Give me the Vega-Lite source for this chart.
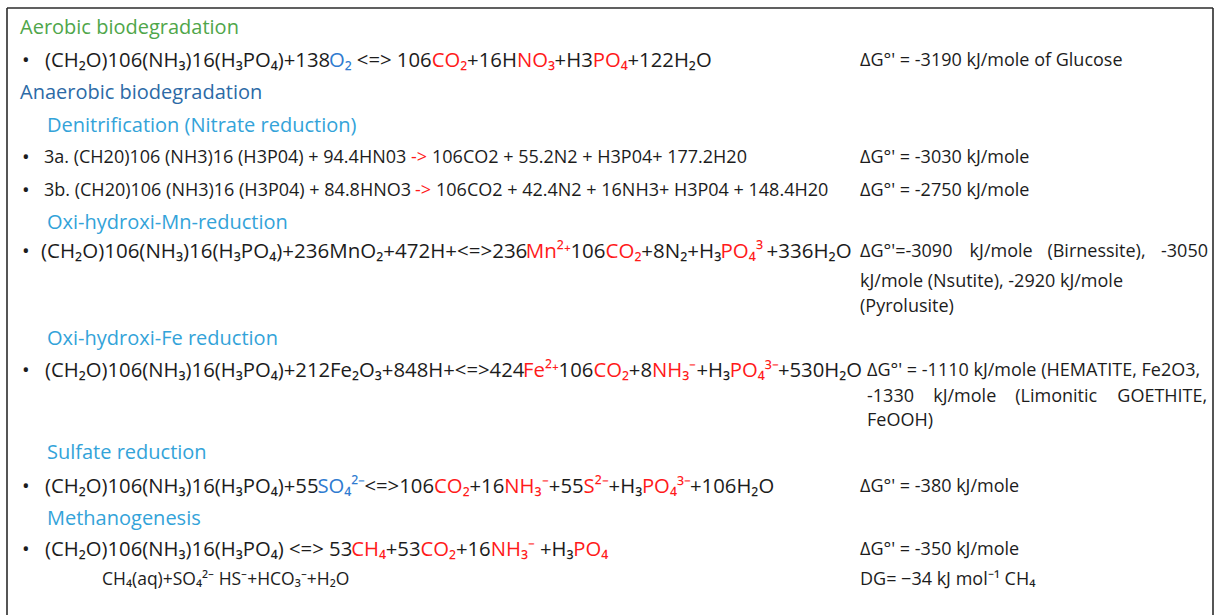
{
  "$schema": "https://vega.github.io/schema/vega-lite/v6.json",
  "width": 1224,
  "height": 615,
  "autosize": "none",
  "padding": 0,
  "background": "white",
  "config": {"view": {"stroke": null}},
  "datasets": {
    "frame": [
      {"x1": 7, "x2": 7, "y1": 8, "y2": 615},
      {"x1": 7, "x2": 1213, "y1": 8, "y2": 8},
      {"x1": 1213, "x2": 1213, "y1": 8, "y2": 615}
    ],
    "t": [
      {"row": 28, "col": 20, "text": "Aerobic biodegradation", "kind": "green", "block": "head"},
      {"row": 93, "col": 20, "text": "Anaerobic biodegradation", "kind": "navy", "block": "head"},
      {"row": 126, "col": 47, "text": "Denitrification (Nitrate reduction)", "kind": "sky", "block": "head"},
      {"row": 223, "col": 47, "text": "Oxi-hydroxi-Mn-reduction", "kind": "sky", "block": "head"},
      {"row": 339, "col": 47, "text": "Oxi-hydroxi-Fe reduction", "kind": "sky", "block": "head"},
      {"row": 453, "col": 47, "text": "Sulfate reduction", "kind": "sky", "block": "head"},
      {"row": 519, "col": 47, "text": "Methanogenesis", "kind": "sky", "block": "head"},

      {"row": 61, "col": 22, "text": "•", "kind": "text", "block": "eq"},
      {"row": 61, "col": 45, "text": "(CH₂O)106(NH₃)16(H₃PO₄)+138", "kind": "text", "block": "eq"},
      {"row": 61, "col": 329, "text": "O₂", "kind": "blue", "block": "eq"},
      {"row": 61, "col": 356.8, "text": "<=> 106", "kind": "text", "block": "eq"},
      {"row": 61, "col": 431.7, "text": "CO₂", "kind": "red", "block": "eq"},
      {"row": 61, "col": 467.1, "text": "+16H", "kind": "text", "block": "eq"},
      {"row": 61, "col": 516.9, "text": "NO₃", "kind": "red", "block": "eq"},
      {"row": 61, "col": 554.6, "text": "+H3", "kind": "text", "block": "eq"},
      {"row": 61, "col": 592.8, "text": "PO₄", "kind": "red", "block": "eq"},
      {"row": 61, "col": 627.5, "text": "+122H₂O", "kind": "text", "block": "eq"},

      {"row": 158, "col": 22, "text": "•", "kind": "text", "block": "eq"},
      {"row": 158, "col": 44, "text": "3a. (CH20)106 (NH3)16 (H3P04) + 94.4HN03", "kind": "text", "block": "denit"},
      {"row": 158, "col": 411, "text": "->", "kind": "red", "block": "denit"},
      {"row": 158, "col": 432, "text": "106CO2 + 55.2N2 + H3P04+ 177.2H20", "kind": "text", "block": "denit"},
      {"row": 191, "col": 22, "text": "•", "kind": "text", "block": "eq"},
      {"row": 191, "col": 44, "text": "3b. (CH20)106 (NH3)16 (H3P04) + 84.8HNO3", "kind": "text", "block": "denit"},
      {"row": 191, "col": 415, "text": "->", "kind": "red", "block": "denit"},
      {"row": 191, "col": 436, "text": "106CO2 + 42.4N2 + 16NH3+ H3P04 + 148.4H20", "kind": "text", "block": "denit"},

      {"row": 252, "col": 22, "text": "•", "kind": "text", "block": "eq"},
      {"row": 252, "col": 41, "text": "(CH₂O)106(NH₃)16(H₃PO₄)+236MnO₂+472H+<=>236", "kind": "text", "block": "mn"},
      {"row": 252, "col": 525.8, "text": "Mn²⁺", "kind": "red", "block": "mn"},
      {"row": 252, "col": 570.4, "text": "106", "kind": "text", "block": "mn"},
      {"row": 252, "col": 605.6, "text": "CO₂", "kind": "red", "block": "mn"},
      {"row": 252, "col": 641.3, "text": "+8N₂+H₃", "kind": "text", "block": "mn"},
      {"row": 252, "col": 720.5, "text": "PO₄³", "kind": "red", "block": "mn"},
      {"row": 252, "col": 766.6, "text": "+336H₂O", "kind": "text", "block": "mn"},

      {"row": 371, "col": 22, "text": "•", "kind": "text", "block": "eq"},
      {"row": 371, "col": 45, "text": "(CH₂O)106(NH₃)16(H₃PO₄)+212Fe₂O₃+848H+<=>424", "kind": "text", "block": "eq"},
      {"row": 371, "col": 523.1, "text": "Fe²⁺", "kind": "red", "block": "eq"},
      {"row": 371, "col": 558.6, "text": "106", "kind": "text", "block": "eq"},
      {"row": 371, "col": 593.4, "text": "CO₂", "kind": "red", "block": "eq"},
      {"row": 371, "col": 628.8, "text": "+8", "kind": "text", "block": "eq"},
      {"row": 371, "col": 652, "text": "NH₃⁻", "kind": "red", "block": "eq"},
      {"row": 371, "col": 696.5, "text": "+H₃", "kind": "text", "block": "eq"},
      {"row": 371, "col": 729.8, "text": "PO₄³⁻", "kind": "red", "block": "eq"},
      {"row": 371, "col": 777.9, "text": "+530H₂O", "kind": "text", "block": "eq"},

      {"row": 487, "col": 22, "text": "•", "kind": "text", "block": "eq"},
      {"row": 487, "col": 45, "text": "(CH₂O)106(NH₃)16(H₃PO₄)+55", "kind": "text", "block": "eq"},
      {"row": 487, "col": 317.4, "text": "SO₄²⁻", "kind": "blue", "block": "eq"},
      {"row": 487, "col": 364.4, "text": "<=>106", "kind": "text", "block": "eq"},
      {"row": 487, "col": 434.1, "text": "CO₂", "kind": "red", "block": "eq"},
      {"row": 487, "col": 469.5, "text": "+16", "kind": "text", "block": "eq"},
      {"row": 487, "col": 504.3, "text": "NH₃⁻", "kind": "red", "block": "eq"},
      {"row": 487, "col": 548.8, "text": "+55", "kind": "text", "block": "eq"},
      {"row": 487, "col": 583.6, "text": "S²⁻", "kind": "red", "block": "eq"},
      {"row": 487, "col": 608.6, "text": "+H₃", "kind": "text", "block": "eq"},
      {"row": 487, "col": 641.9, "text": "PO₄³⁻", "kind": "red", "block": "eq"},
      {"row": 487, "col": 690, "text": "+106H₂O", "kind": "text", "block": "eq"},

      {"row": 550, "col": 22, "text": "•", "kind": "text", "block": "eq"},
      {"row": 550, "col": 45, "text": "(CH₂O)106(NH₃)16(H₃PO₄) <=> 53", "kind": "text", "block": "eq"},
      {"row": 550, "col": 351.2, "text": "CH₄", "kind": "red", "block": "eq"},
      {"row": 550, "col": 385.7, "text": "+53", "kind": "text", "block": "eq"},
      {"row": 550, "col": 420.5, "text": "CO₂", "kind": "red", "block": "eq"},
      {"row": 550, "col": 455.9, "text": "+16", "kind": "text", "block": "eq"},
      {"row": 550, "col": 490.7, "text": "NH₃⁻", "kind": "red", "block": "eq"},
      {"row": 550, "col": 540, "text": "+H₃", "kind": "text", "block": "eq"},
      {"row": 550, "col": 573.3, "text": "PO₄", "kind": "red", "block": "eq"},
      {"row": 580, "col": 102, "text": "CH₄(aq)+SO₄²⁻ HS⁻+HCO₃⁻+H₂O", "kind": "text", "block": "small"},

      {"row": 61, "col": 860, "text": "ΔG°' = -3190 kJ/mole of Glucose", "kind": "text", "block": "dg"},
      {"row": 158, "col": 860, "text": "ΔG°' = -3030 kJ/mole", "kind": "text", "block": "dg"},
      {"row": 191, "col": 860, "text": "ΔG°' = -2750 kJ/mole", "kind": "text", "block": "dg"},
      {"row": 252, "col": 860, "text": "ΔG°'=-3090", "kind": "text", "block": "dg"},
      {"row": 252, "col": 969.6, "text": "kJ/mole", "kind": "text", "block": "dg"},
      {"row": 252, "col": 1047.4, "text": "(Birnessite),", "kind": "text", "block": "dg"},
      {"row": 252, "col": 1161, "text": "-3050", "kind": "text", "block": "dg"},
      {"row": 282, "col": 860, "text": "kJ/mole (Nsutite), -2920 kJ/mole", "kind": "text", "block": "dg"},
      {"row": 307, "col": 860, "text": "(Pyrolusite)", "kind": "text", "block": "dg"},
      {"row": 371, "col": 867, "text": "ΔG°' = -1110 kJ/mole (HEMATITE, Fe2O3,", "kind": "text", "block": "dg"},
      {"row": 397, "col": 867, "text": "-1330", "kind": "text", "block": "dg"},
      {"row": 397, "col": 933.2, "text": "kJ/mole", "kind": "text", "block": "dg"},
      {"row": 397, "col": 1015.3, "text": "(Limonitic", "kind": "text", "block": "dg"},
      {"row": 397, "col": 1117.3, "text": "GOETHITE,", "kind": "text", "block": "dg"},
      {"row": 421, "col": 867, "text": "FeOOH)", "kind": "text", "block": "dg"},
      {"row": 487, "col": 860, "text": "ΔG°' = -380 kJ/mole", "kind": "text", "block": "dg"},
      {"row": 550, "col": 860, "text": "ΔG°' = -350 kJ/mole", "kind": "text", "block": "dg"},
      {"row": 580, "col": 860, "text": "DG= −34 kJ mol⁻¹ CH₄", "kind": "text", "block": "dg"}
    ]
  },
  "layer": [
    {
      "data": {"name": "frame"},
      "mark": {"type": "rule", "stroke": "#2b2b2b", "strokeWidth": 1.6},
      "encoding": {
        "x": {"field": "x1", "type": "quantitative", "scale": {"domain": [0, 1224], "nice": false, "zero": false}, "axis": null},
        "x2": {"field": "x2"},
        "y": {"field": "y1", "type": "quantitative", "scale": {"domain": [0, 615], "reverse": true, "nice": false, "zero": false}, "axis": null},
        "y2": {"field": "y2"}
      }
    },
    {
      "data": {"name": "t"},
      "transform": [{"filter": "datum.block === 'head'"}],
      "mark": {"type": "text", "align": "left", "baseline": "middle", "font": "Open Sans", "fontSize": 20},
      "encoding": {
        "x": {"field": "col", "type": "quantitative"},
        "y": {"field": "row", "type": "quantitative"},
        "text": {"field": "text"},
        "color": {"field": "kind", "type": "nominal", "legend": null,
          "scale": {"domain": ["text", "red", "blue", "green", "navy", "sky"], "range": ["#1c1c1c", "#ff1a1a", "#2f7bd0", "#4fa64a", "#2c6aa6", "#33a3d9"]}}
      }
    },
    {
      "data": {"name": "t"},
      "transform": [{"filter": "datum.block === 'eq'"}],
      "mark": {"type": "text", "align": "left", "baseline": "middle", "font": "Open Sans", "fontSize": 20.3},
      "encoding": {
        "x": {"field": "col", "type": "quantitative"},
        "y": {"field": "row", "type": "quantitative"},
        "text": {"field": "text"},
        "color": {"field": "kind", "type": "nominal", "legend": null}
      }
    },
    {
      "data": {"name": "t"},
      "transform": [{"filter": "datum.block === 'mn'"}],
      "mark": {"type": "text", "align": "left", "baseline": "middle", "font": "Open Sans", "fontSize": 20.5},
      "encoding": {
        "x": {"field": "col", "type": "quantitative"},
        "y": {"field": "row", "type": "quantitative"},
        "text": {"field": "text"},
        "color": {"field": "kind", "type": "nominal", "legend": null}
      }
    },
    {
      "data": {"name": "t"},
      "transform": [{"filter": "datum.block === 'denit'"}],
      "mark": {"type": "text", "align": "left", "baseline": "middle", "font": "Open Sans", "fontSize": 18},
      "encoding": {
        "x": {"field": "col", "type": "quantitative"},
        "y": {"field": "row", "type": "quantitative"},
        "text": {"field": "text"},
        "color": {"field": "kind", "type": "nominal", "legend": null}
      }
    },
    {
      "data": {"name": "t"},
      "transform": [{"filter": "datum.block === 'dg'"}],
      "mark": {"type": "text", "align": "left", "baseline": "middle", "font": "Open Sans", "fontSize": 18},
      "encoding": {
        "x": {"field": "col", "type": "quantitative"},
        "y": {"field": "row", "type": "quantitative"},
        "text": {"field": "text"},
        "color": {"field": "kind", "type": "nominal", "legend": null}
      }
    },
    {
      "data": {"name": "t"},
      "transform": [{"filter": "datum.block === 'small'"}],
      "mark": {"type": "text", "align": "left", "baseline": "middle", "font": "Open Sans", "fontSize": 17.5},
      "encoding": {
        "x": {"field": "col", "type": "quantitative"},
        "y": {"field": "row", "type": "quantitative"},
        "text": {"field": "text"},
        "color": {"field": "kind", "type": "nominal", "legend": null}
      }
    }
  ]
}
